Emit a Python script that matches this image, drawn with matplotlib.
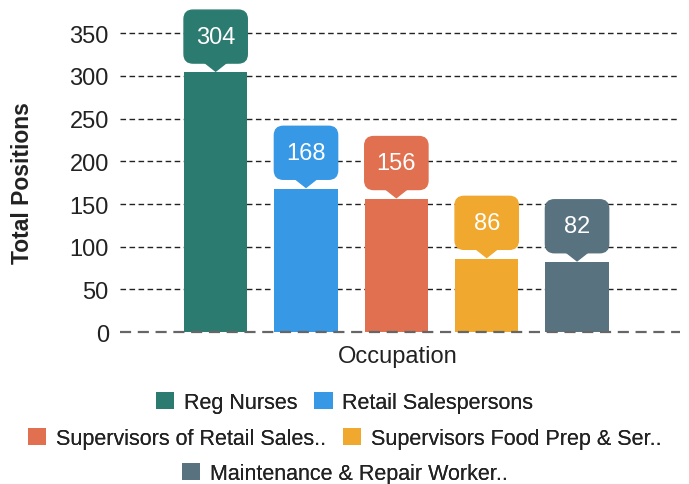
import numpy as np
import matplotlib.pyplot as plt
from matplotlib.patches import FancyBboxPatch, Polygon, Patch

plt.rcParams['font.family'] = ['Liberation Sans', 'DejaVu Sans']

# donnees
occupations = ['Reg Nurses', 'Retail Salespersons', 'Supervisors of Retail Sales..',
               'Supervisors Food Prep & Ser..', 'Maintenance & Repair Worker..']
positions = [304, 168, 156, 86, 82]
couleurs = ['#2b7b70', '#3798e6', '#e0704f', '#f0a92e', '#587280']

fig = plt.figure(figsize=(6.89, 4.85), dpi=100)
ax = fig.add_axes([0.174, 0.313, 0.813, 0.687])

x = np.arange(len(positions))
larg = 0.70
ax.bar(x, positions, width=larg, color=couleurs, zorder=3)

ax.set_xlim(-1.06, 5.14)
ax.set_ylim(0, 390)
ax.set_yticks(np.arange(0, 351, 50))
ax.set_xticks([])
ax.tick_params(axis='y', length=0, pad=8, labelsize=17, labelcolor='#222222')
for s in ax.spines.values():
    s.set_visible(False)

# grille pointillee
for v in np.arange(50, 351, 50):
    ax.axhline(v, color='#222222', lw=1.0, ls=(0, (4, 2.5)), zorder=1)
ax.axhline(0, color='#666666', lw=1.6, ls=(0, (5, 3)), zorder=4, clip_on=False)

# bulles avec pointe
asp = 105
for i, v in enumerate(positions):
    bas = v + 11
    haut = v + 73
    box = FancyBboxPatch((x[i] - larg / 2, bas), larg, haut - bas,
                         boxstyle='round,pad=0,rounding_size=0.1',
                         mutation_aspect=asp, color=couleurs[i], zorder=5, clip_on=False)
    ax.add_patch(box)
    tri = Polygon([[x[i] - 0.12, bas + 0.5], [x[i] + 0.12, bas + 0.5], [x[i], v + 1.5]],
                  closed=True, color=couleurs[i], zorder=5, clip_on=False)
    ax.add_patch(tri)
    ax.text(x[i], (bas + haut) / 2, str(v), color='white', fontsize=17,
            ha='center', va='center', zorder=6)

fig.text(0.033, 0.623, 'Total Positions', rotation=90, fontsize=16.5, fontweight='bold',
         ha='center', va='center', color='#222222')
fig.text(0.578, 0.264, 'Occupation', fontsize=17, ha='center', va='center', color='#222222')

# legende sur 3 lignes
handles = [Patch(facecolor=c, edgecolor='none') for c in couleurs]
rangs = [([0, 1], 0.168), ([2, 3], 0.094), ([4], 0.022)]
for idx, yy in rangs:
    leg = fig.legend([handles[k] for k in idx], [occupations[k] for k in idx],
                     loc='center', bbox_to_anchor=(0.5, yy), ncol=len(idx), frameon=False,
                     fontsize=15.5, handlelength=0.85, handleheight=0.85, handletextpad=0.45,
                     columnspacing=0.8, borderaxespad=0, borderpad=0)
    for t in leg.get_texts():
        t.set_color('#222222')
    fig.add_artist(leg)

plt.savefig('out.png', dpi=100)
